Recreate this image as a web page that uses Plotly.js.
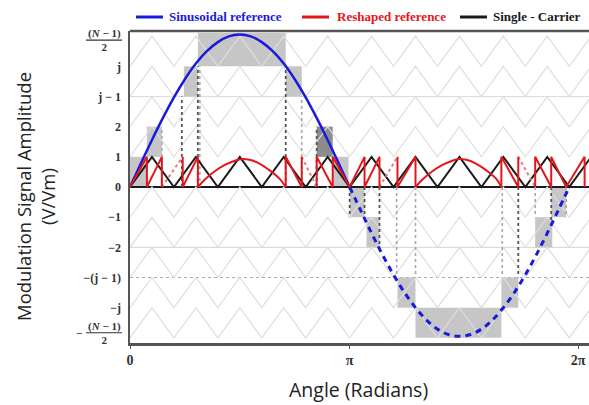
<!DOCTYPE html>
<html><head><meta charset="utf-8">
<script src="https://cdn.plot.ly/plotly-3.0.1.min.js"></script>
<style>html,body{margin:0;padding:0;background:#fff}#chart{width:589px;height:405px}</style>
</head><body><div id="chart"></div>
<script>
// x values are in units of pi (0 .. 2 = 0 .. 2π)
const carrierX = [0,0.1,0.2,0.3,0.4,0.5,0.6,0.7,0.8,0.9,1.0,1.1,1.2,1.3,1.4,1.5,1.6,1.7,1.8,1.9,2.0,2.1];
const carrierY = [0,1,0,1,0,1,0,1,0,1,0,1,0,1,0,1,0,1,0,1,0,1];
const bandBases = [-5,-4,-3,-2,-1,1,2,3,4];

const sineX1 = [0,0.05,0.1,0.15,0.2,0.25,0.3,0.35,0.4,0.45,0.5,0.55,0.6,0.65,0.7,0.75,0.8,0.85,0.9,0.95,1.0];
const sineY1 = [0,0.79,1.56,2.29,2.97,3.57,4.09,4.50,4.80,4.99,5.05,4.99,4.80,4.50,4.09,3.57,2.97,2.29,1.56,0.79,0];
const sineX2 = [1.0,1.05,1.1,1.15,1.2,1.25,1.3,1.35,1.4,1.45,1.5,1.55,1.6,1.65,1.7,1.75,1.8,1.85,1.9,1.95,2.0];
const sineY2 = [0,-0.77,-1.53,-2.25,-2.91,-3.50,-4.00,-4.41,-4.71,-4.89,-4.95,-4.89,-4.71,-4.41,-4.00,-3.50,-2.91,-2.25,-1.53,-0.77,0];

// reshaped reference (solid sawtooth parts)
const redSawX = [0,0.077,0.077,0.145,0.145,null,
  0.24,0.24,0.309,0.309,null,
  0.709,0.709,0.782,0.782,null,
  0.85,0.85,0.923,0.923,1.0,1.068,1.068,1.136,1.136,null,
  1.218,1.218,1.3,1.3,null,
  1.691,1.691,1.768,1.768,null,
  1.845,1.845,1.918,1.918,1.986,2.07,2.07];
const redSawY = [0,1,0,1,0,null,
  1,0,1,0,null,
  0,1,0,1,null,
  0,1,0,1,0,1,0,1,0,null,
  1,0,1,0,null,
  0,1,0,1,null,
  0,1,0,1,0,1,0];
const redDotX = [0.145,0.24,null,0.782,0.85,null,1.136,1.218,null,1.768,1.845];
const redDotY = [0,1,null,1,0,null,0,1,null,1,0];
const redArcX = [0.309,0.341,0.386,0.432,0.477,0.509,0.545,0.591,0.636,0.682,0.709,null,
  1.3,1.332,1.377,1.423,1.468,1.495,1.532,1.577,1.623,1.668,1.691];
const redArcY = [0,0.25,0.52,0.73,0.87,0.93,0.9,0.77,0.55,0.27,0,null,
  0,0.25,0.52,0.73,0.87,0.93,0.9,0.77,0.55,0.27,0];

// quantised level blocks
const rectX0 = [0,0.077,0.245,0.309,0.709,0.85,0.923,1.0,1.077,1.218,1.3,1.691,1.845,1.918];
const rectX1 = [0.077,0.145,0.309,0.709,0.782,0.923,0.995,1.068,1.136,1.3,1.691,1.768,1.923,1.986];
const rectLo = [0,1,3,4,3,1,0,-1,-2,-4,-5,-4,-2,-1];
const rectHi = [1,2,4,5.1,4,2,1,0,-1,-3,-4,-3,-1,0];
const rectDark = [0,0,0,0,0,1,0,0,0,0,0,0,0,0];

// vertical dotted projections
const darkVX = [0.236,0.309,0.709,0.85,1.0,1.068,1.136,1.768,1.918];
const darkVY = [3,4,4,2,-1,-1,-2,-3,-1.1];
const lightVX = [0.145,0.318,0.782,1.214,1.3,1.695,1.845,1.986];
const lightVY = [2,4,3,-3,-3,-3,-1,-1];

const yTickVals = [-4,-3,-2,-1,0,1,2,3,4];
const yTickText = ['−j','−(j − 1)','−2','−1','0','1','2','j − 1','j'];
const xTickVals = [0,1,2.04];
const xTickText = ['0','π','2π'];

const legendNames = ['Sinusoidal reference','Reshaped reference','Single - Carrier'];
const legendColors = ['#1a1adb','#e3161c','#1a1a1a'];

const serif = 'Liberation Serif, Times New Roman, serif';
const pxX = p => (p - 130) / 459;
const pxY = p => (343 - p) / 312;

const traces = [];
bandBases.forEach(b => {
  traces.push({x: carrierX, y: carrierY.map(v => v + b), mode:'lines', showlegend:false,
    line:{color:'#dedede', width:1.2}, hoverinfo:'skip'});
});
function vlines(xs, ys){ const X=[],Y=[]; xs.forEach((x,i)=>{X.push(x,x,null);Y.push(0,ys[i],null);}); return {X,Y}; }
const dv = vlines(darkVX, darkVY), lv = vlines(lightVX, lightVY);
traces.push({x: lv.X, y: lv.Y, mode:'lines', showlegend:false, line:{color:'#a8a8a8', width:1.6, dash:'dot'}});
traces.push({x: dv.X, y: dv.Y, mode:'lines', showlegend:false, line:{color:'#555', width:1.8, dash:'dot'}});
traces.push({x: sineX1, y: sineY1, mode:'lines', name:legendNames[0], showlegend:false,
  line:{color:legendColors[0], width:2.5, shape:'spline'}});
traces.push({x: sineX2, y: sineY2, mode:'lines', showlegend:false,
  line:{color:legendColors[0], width:3, shape:'spline', dash:'6px,5px'}});
traces.push({x: carrierX, y: carrierY, mode:'lines', name:legendNames[2], showlegend:false, line:{color:legendColors[2], width:2}});
traces.push({x: redDotX, y: redDotY, mode:'lines', showlegend:false, line:{color:'#e87a7a', width:2, dash:'dot'}});
traces.push({x: redArcX, y: redArcY, mode:'lines', showlegend:false, line:{color:legendColors[1], width:2, shape:'spline'}});
traces.push({x: redSawX, y: redSawY, mode:'lines', name:legendNames[1], showlegend:false, line:{color:legendColors[1], width:2}});

const shapes = [];
rectX0.forEach((x0,i)=>{
  shapes.push({type:'rect', xref:'x', yref:'y', x0:x0, x1:rectX1[i], y0:rectLo[i], y1:rectHi[i],
    fillcolor: rectDark[i] ? '#8c8c8c' : '#c6c6c6', line:{width:0}, layer:'below'});
});
shapes.push({type:'line', xref:'paper', yref:'y', x0:0, x1:1, y0:3, y1:3, line:{color:'#dcdcdc', width:1}, layer:'below'});
shapes.push({type:'line', xref:'paper', yref:'y', x0:0, x1:1, y0:-2, y1:-2, line:{color:'#d4d4d4', width:1}, layer:'below'});
shapes.push({type:'line', xref:'paper', yref:'y', x0:0, x1:1, y0:-3, y1:-3, line:{color:'#aaaaaa', width:1.2, dash:'dot'}, layer:'below'});
shapes.push({type:'line', xref:'paper', yref:'y', x0:pxX(86), x1:pxX(122), y0:4.87, y1:4.87, line:{color:'#333', width:1.2}});
shapes.push({type:'line', xref:'paper', yref:'y', x0:pxX(86), x1:pxX(122), y0:-4.83, y1:-4.83, line:{color:'#333', width:1.2}});
shapes.push({type:'line', xref:'paper', yref:'paper', x0:0, x1:1, y0:1, y1:1, line:{color:'#555', width:2.5}});

// legend (line samples + labels)
const legLineX = [136, 302, 460];
const legTextX = [167, 335, 491];
const legY = pxY(17);
const annotations = [];
legendNames.forEach((n,i)=>{
  shapes.push({type:'line', xref:'paper', yref:'paper', x0:pxX(legLineX[i]), x1:pxX(legLineX[i]+27), y0:legY, y1:legY,
    line:{color:legendColors[i], width:3}});
  annotations.push({xref:'paper', yref:'paper', x:pxX(legTextX[i]), y:legY, text:n, showarrow:false, xanchor:'left', yanchor:'middle',
    font:{family:serif, size:13, color:legendColors[i], weight:'bold'}});
});

annotations.push(
  {xref:'paper', yref:'y', x:pxX(104), y:4.87, text:'(<i>N</i> − 1)<br>2', showarrow:false, xanchor:'center', yanchor:'middle', align:'center',
   font:{family:serif, size:11, color:'#333', weight:'bold'}},
  {xref:'paper', yref:'y', x:pxX(104), y:-4.83, text:'(<i>N</i> − 1)<br>2', showarrow:false, xanchor:'center', yanchor:'middle', align:'center',
   font:{family:serif, size:11, color:'#333', weight:'bold'}},
  {xref:'paper', yref:'y', x:pxX(84), y:-4.83, text:'−', showarrow:false, xanchor:'right', yanchor:'middle',
   font:{family:serif, size:11, color:'#333', weight:'bold'}},
  {xref:'paper', yref:'paper', x:pxX(35), y:pxY(197), text:'Modulation Signal Amplitude<br>(V/Vm)', textangle:-90,
   showarrow:false, xanchor:'center', yanchor:'middle', align:'center', font:{family:'Open Sans, sans-serif', size:18.5, color:'#222'}},
  {xref:'paper', yref:'paper', x:pxX(358), y:pxY(389), text:'Angle (Radians)', showarrow:false, xanchor:'center', yanchor:'middle',
   font:{family:'Open Sans, sans-serif', size:19.5, color:'#222'}}
);

const layout = {
  width:589, height:405, margin:{l:130, r:0, t:31, b:62},
  paper_bgcolor:'#fff', plot_bgcolor:'#fff',
  showlegend:false,
  xaxis:{range:[0,2.09], tickvals:xTickVals, ticktext:xTickText, showgrid:false, zeroline:false,
    showline:true, linecolor:'#555', linewidth:2.5, mirror:false, ticks:'outside', ticklen:3, tickcolor:'#555',
    ticklabeloverflow:'allow',
    tickfont:{family:serif, size:14, color:'#333', weight:'bold'}},
  yaxis:{range:[-5.17,5.17], tickvals:yTickVals, ticktext:yTickText, showgrid:false,
    zeroline:true, zerolinecolor:'#1a1a1a', zerolinewidth:2.5,
    showline:true, linecolor:'#555', linewidth:2.5, ticks:'', ticklabelstandoff:4,
    tickfont:{family:serif, size:12, color:'#333', weight:'bold'}},
  shapes: shapes,
  annotations: annotations
};
Plotly.newPlot('chart', traces, layout, {displayModeBar:false, staticPlot:true});
</script></body></html>
